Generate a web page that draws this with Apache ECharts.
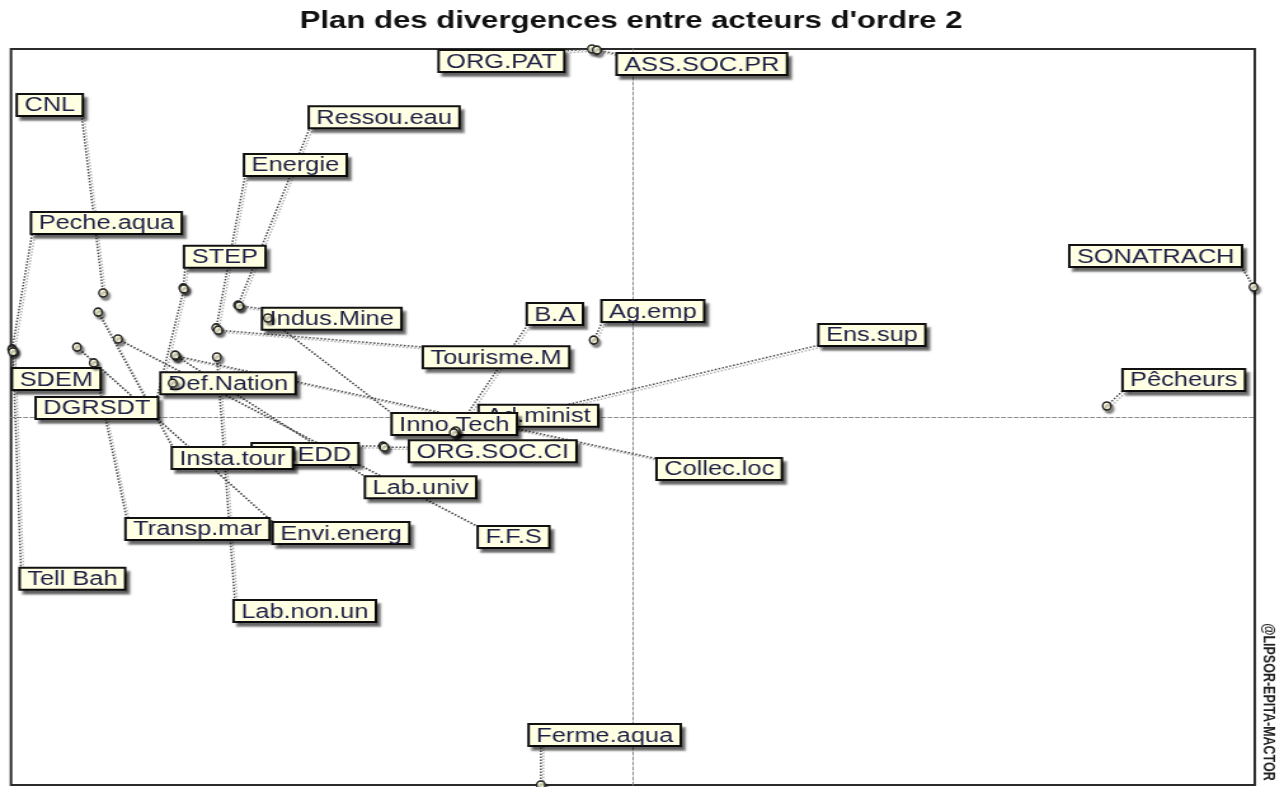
<!DOCTYPE html>
<html>
<head>
<meta charset="utf-8">
<title>Plan des divergences entre acteurs d'ordre 2</title>
<script src="https://cdn.jsdelivr.net/npm/echarts@6.0.0/dist/echarts.min.js"></script>
<style>
  html, body { margin: 0; padding: 0; background: #fff; overflow: hidden; }
  #chart { height: 787px; transform-origin: 0 0; }
</style>
</head>
<body>
<div id="chart"></div>
<script>
// the reference picture is stretched in x, so the chart is drawn narrower and scaled
const STRETCH = 1.27;
const PAGE_W = 1288;

const actors = ['ORG.PAT', 'ASS.SOC.PR', 'CNL', 'Ressou.eau', 'Energie', 'Peche.aqua', 'STEP',
    'SONATRACH', 'Indus.Mine', 'B.A', 'Ag.emp', 'Ens.sup', 'Tourisme.M', 'SDEM', 'Def.Nation',
    'Pêcheurs', 'DGRSDT', 'Ad.minist', 'Inno.Tech', 'ONEDD', 'ORG.SOC.CI', 'Insta.tour',
    'Collec.loc', 'Lab.univ', 'Transp.mar', 'Envi.energ', 'F.F.S', 'Tell Bah', 'Lab.non.un',
    'Ferme.aqua'];
const xs = [-0.066, -0.058, -0.852, -0.635, -0.670, -0.998, -0.723, 0.998, -0.633, -0.286,
    -0.063, -0.285, -0.667, -0.998, -0.740, 0.762, -0.722, -0.288, -0.587, -0.402, -0.400,
    -0.860, -0.735, -0.736, -0.867, -0.894, -0.828, -0.997, -0.669, -0.148];
const ys = [1.000, 0.997, 0.337, 0.304, 0.242, 0.185, 0.351, 0.353, 0.302, -0.041, 0.209,
    -0.038, 0.236, 0.182, 0.092, 0.030, 0.348, -0.043, 0.269, -0.079, -0.082, 0.285, 0.166,
    0.168, 0.147, 0.190, 0.212, 0.177, 0.163, -1.000];

// where each label box sits relative to its point (screen px, top-left corner)
const labelOffset = [[-152, 2], [21, 4], [-85, -198], [72, -198], [29, -173], [20, -136],
    [2, -41], [-183, -41], [24, 3], [73, -128], [9, -39], [364, -106], [206, 17], [1, 19],
    [-11, -10], [17, -36], [-147, 109], [26, -27], [125, 96], [-130, -2], [26, -6], [75, 136],
    [482, 103], [191, 122], [33, 156], [197, 176], [361, 188], [8, 217], [18, 244], [-11, -60]];

const W = PAGE_W / STRETCH;
const el = document.getElementById('chart');
el.style.width = W + 'px';
el.style.transform = 'scaleX(' + STRETCH + ')';

const LABEL_SIZE = 20;
const LABEL_FAMILY = '"Liberation Sans", Arial, sans-serif';
const LABEL_PAD = [3, 5, 1, 5];
const LABEL_LH = 16;

const measure = document.createElement('canvas').getContext('2d');
measure.font = LABEL_SIZE + 'px ' + LABEL_FAMILY;
const labelW = actors.map(function (a) {
    return measure.measureText(a).width + LABEL_PAD[1] + LABEL_PAD[3];
});
const labelH = LABEL_LH + LABEL_PAD[0] + LABEL_PAD[2];

const points = xs.map(function (x, i) { return [x, ys[i]]; });

function boxOf(i, p) {
    return {
        x: p[0] + labelOffset[i][0] / STRETCH,
        y: p[1] + labelOffset[i][1]
    };
}

function clamp(v, a, b) { return Math.max(a, Math.min(b, v)); }

const chart = echarts.init(el);

const axisCommon = {
    type: 'value',
    min: -1,
    max: 1,
    axisLine: {
        onZero: true,
        lineStyle: { color: '#8a8a8a', width: 1, type: [3, 2] }
    },
    axisTick: { show: false },
    axisLabel: { show: false },
    splitLine: { show: false }
};

chart.setOption({
    animation: false,
    backgroundColor: '#fff',
    title: {
        text: "Plan des divergences entre acteurs d'ordre 2",
        left: 631 / STRETCH,
        top: 9,
        padding: 0,
        textAlign: 'center',
        textStyle: {
            fontFamily: LABEL_FAMILY,
            fontWeight: 'bold',
            fontSize: 24.5,
            color: '#111'
        }
    },
    grid: {
        left: 11 / STRETCH,
        right: W - 1255 / STRETCH,
        top: 49,
        bottom: 2,
        show: true,
        borderColor: '#2b2b2b',
        borderWidth: 2,
        outerBoundsMode: 'none'
    },
    xAxis: axisCommon,
    yAxis: axisCommon,
    graphic: [{
        type: 'text',
        x: 1268 / STRETCH,
        y: 702,
        rotation: -Math.PI / 2,
        style: {
            text: '@LIPSOR-EPITA-MACTOR',
            fontFamily: LABEL_FAMILY,
            fontWeight: 'bold',
            fontSize: 12.5,
            fill: '#222',
            align: 'center',
            verticalAlign: 'middle'
        }
    }],
    series: [
        {
            // dotted leader lines from each point to the nearest spot of its label
            type: 'custom',
            z: 2,
            silent: true,
            data: points,
            renderItem: function (params, api) {
                const i = params.dataIndex;
                const p = api.coord([api.value(0), api.value(1)]);
                const b = boxOf(i, p);
                const qx = clamp(p[0], b.x, b.x + labelW[i]);
                const qy = clamp(p[1], b.y, b.y + labelH);
                return {
                    type: 'line',
                    shape: { x1: p[0], y1: p[1], x2: qx, y2: qy },
                    style: {
                        stroke: '#4a4a4a',
                        lineWidth: 1.5,
                        lineDash: [1.5, 1.5],
                        shadowColor: 'rgba(0,0,0,0.3)',
                        shadowOffsetX: 2,
                        shadowOffsetY: 2
                    }
                };
            }
        },
        {
            type: 'custom',
            z: 3,
            silent: true,
            data: points,
            renderItem: function (params, api) {
                const i = params.dataIndex;
                const p = api.coord([api.value(0), api.value(1)]);
                const b = boxOf(i, p);
                return {
                    type: 'text',
                    x: b.x,
                    y: b.y,
                    style: {
                        text: actors[i],
                        fontFamily: LABEL_FAMILY,
                        fontSize: LABEL_SIZE,
                        lineHeight: LABEL_LH,
                        fill: '#1d1f45',
                        align: 'left',
                        verticalAlign: 'top',
                        backgroundColor: '#ffffe3',
                        borderColor: '#111',
                        borderWidth: 2,
                        padding: LABEL_PAD,
                        shadowColor: 'rgba(0,0,0,0.45)',
                        shadowBlur: 2,
                        shadowOffsetX: 3,
                        shadowOffsetY: 4
                    }
                };
            }
        },
        {
            type: 'scatter',
            z: 4,
            silent: true,
            data: points,
            symbol: 'circle',
            symbolSize: [6.5, 8],
            itemStyle: {
                color: '#fffde0',
                borderColor: '#222',
                borderWidth: 1.5,
                opacity: 1,
                shadowColor: 'rgba(0,0,0,0.45)',
                shadowBlur: 2,
                shadowOffsetX: 2,
                shadowOffsetY: 3
            }
        }
    ]
});
</script>
</body>
</html>
